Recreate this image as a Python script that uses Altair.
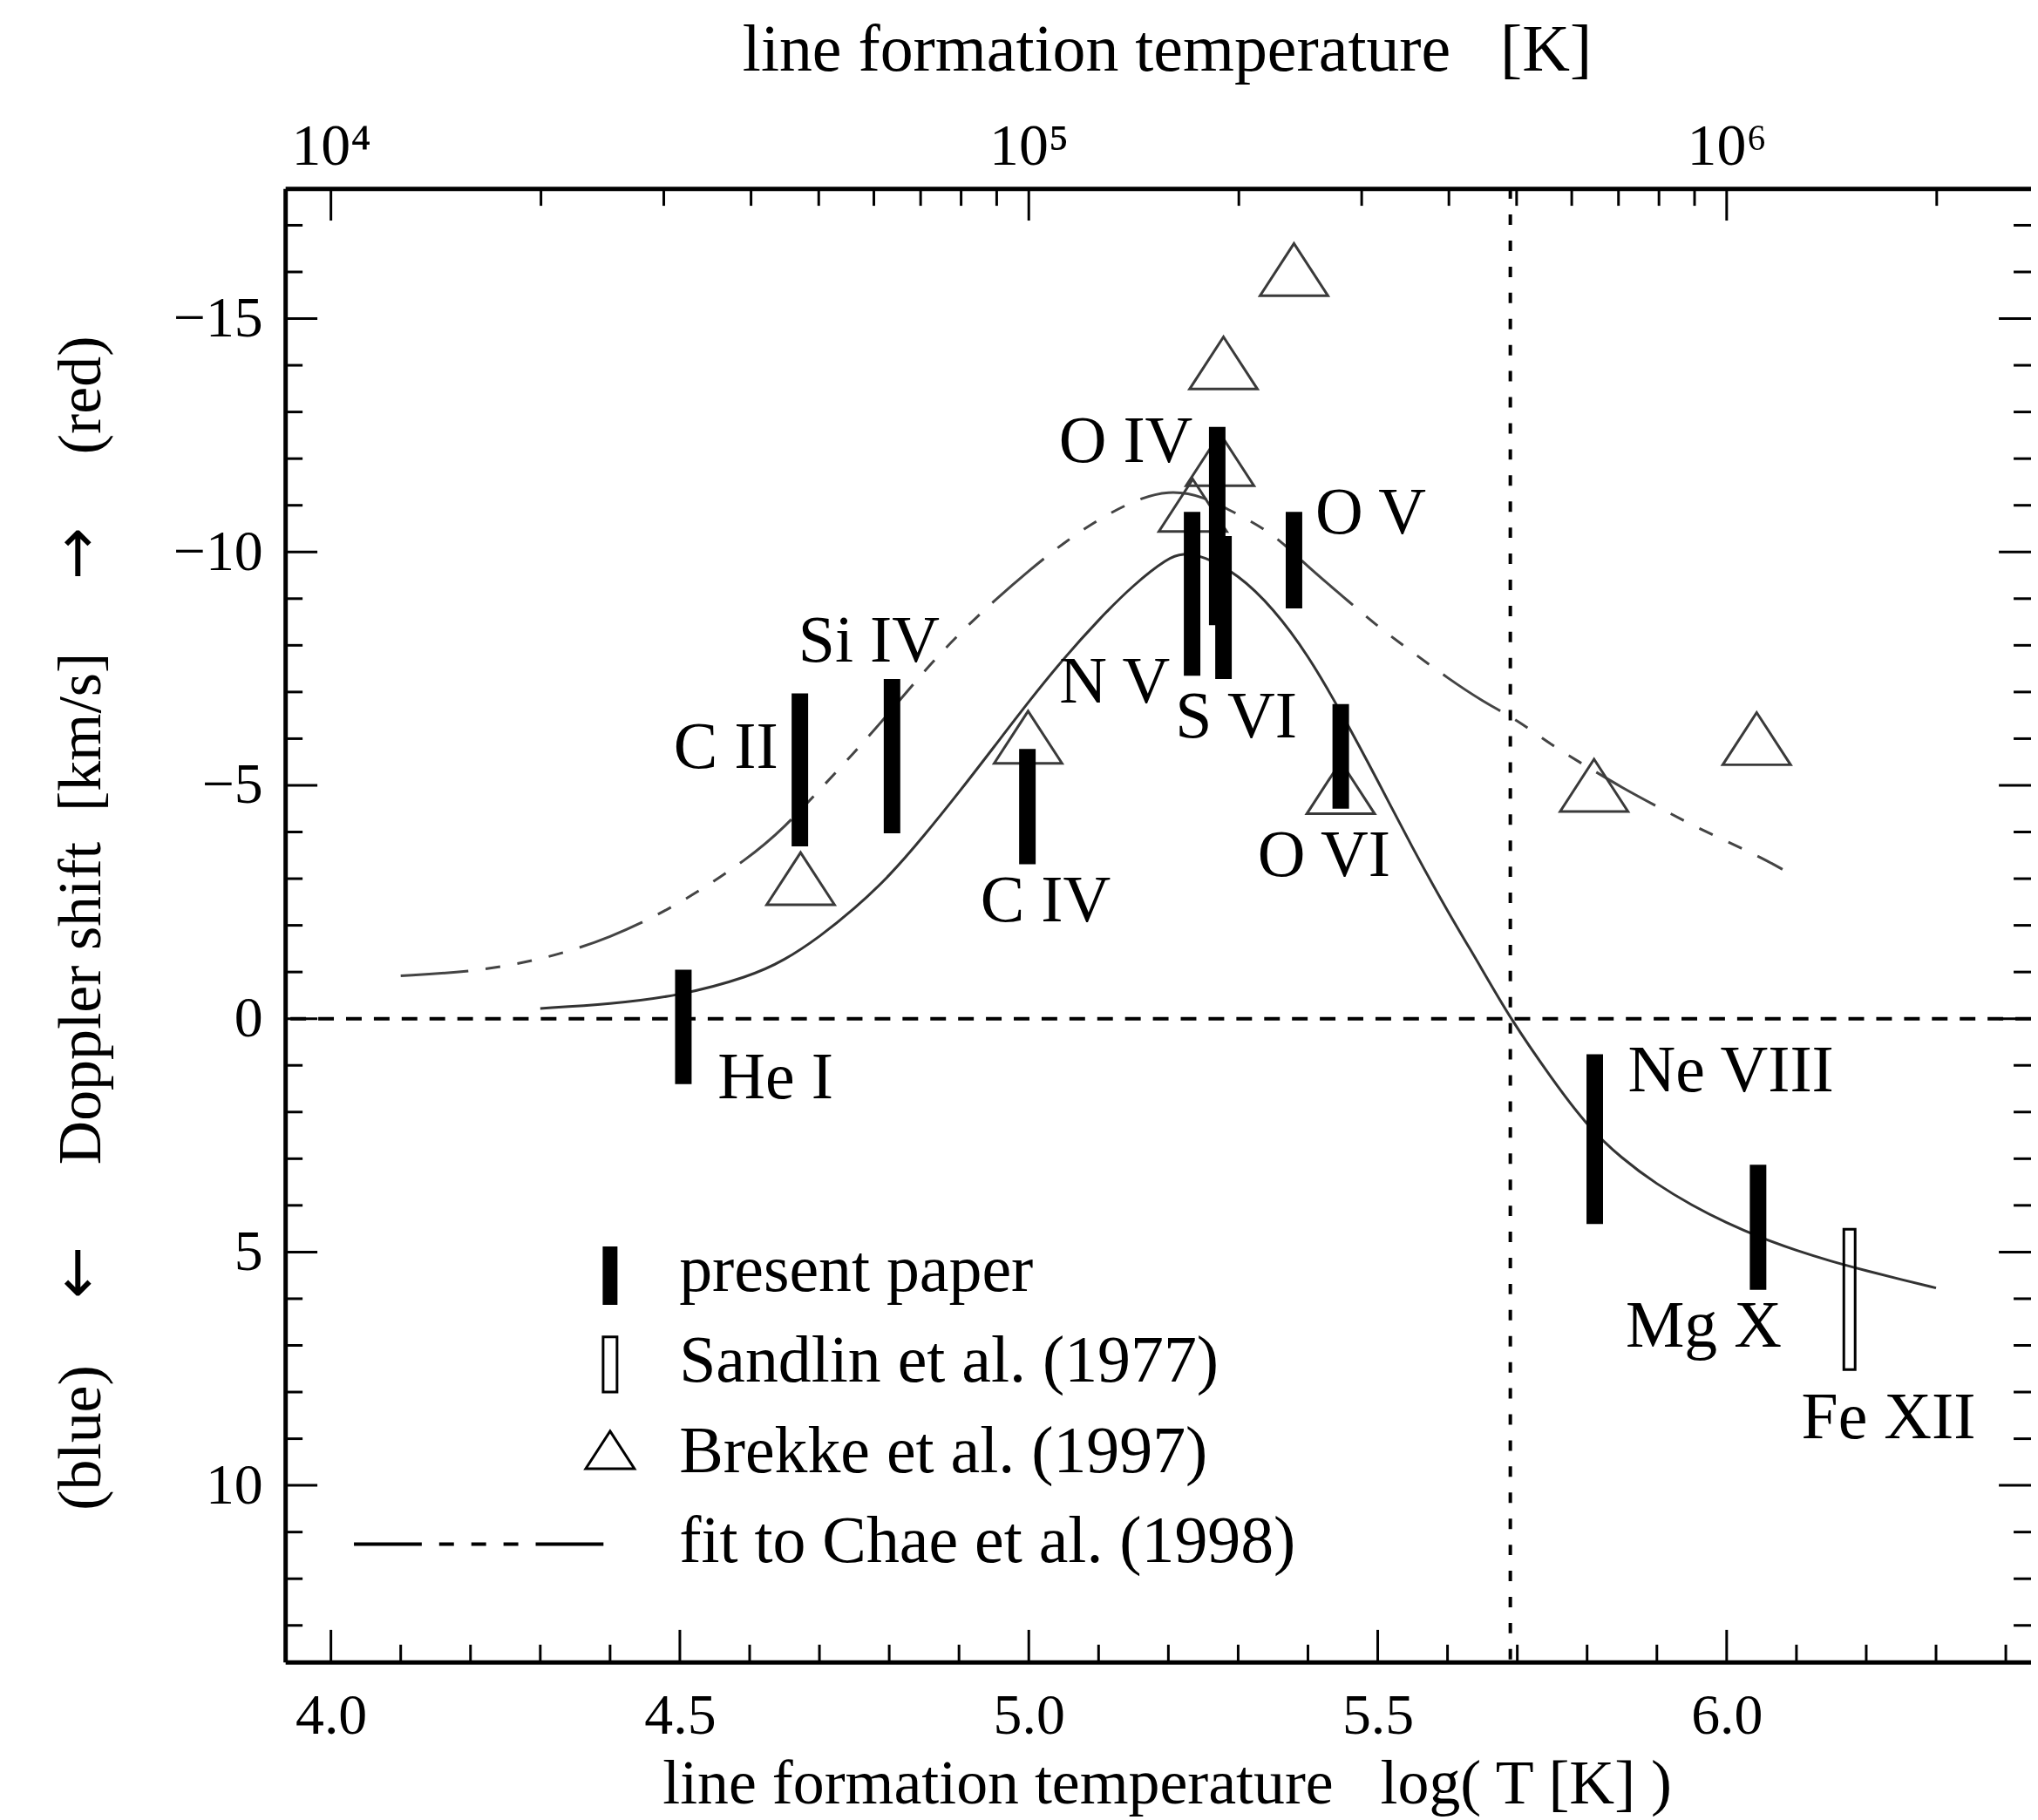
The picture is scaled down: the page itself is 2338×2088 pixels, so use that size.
import altair as alt
import pandas as pd

# ---------------- data ----------------
# present paper (filled bars): line, log T, top / bottom of the bar [km/s]
bar_names = ["He I", "C II", "Si IV", "C IV", "N V", "O IV", "S VI", "O V", "O VI", "Ne VIII", "Mg X"]
bar_x     = [4.505, 4.672, 4.804, 4.998, 5.234, 5.270, 5.279, 5.380, 5.447, 5.811, 6.045]
bar_top   = [-1.05, -6.97, -7.28, -5.78, -10.86, -12.68, -10.34, -10.86, -6.74, 0.76, 3.13]
bar_bot   = [1.40, -3.69, -3.97, -3.31, -7.35, -8.43, -7.28, -8.79, -4.50, 4.40, 5.81]

# Sandlin et al. (1977) (open bar)
sandlin_x   = [6.176]
sandlin_top = [4.51]
sandlin_bot = [7.52]

# Brekke et al. (1997) (triangles)
brekke_x = [4.673, 4.999, 5.235, 5.274, 5.279, 5.380, 5.447, 5.810, 6.043]
brekke_y = [-3.0, -6.03, -11.0, -11.98, -14.05, -16.05, -4.95, -5.0, -6.0]

# solid fit curve
solid_x = [4.30, 4.40, 4.50, 4.60, 4.65, 4.70, 4.75, 4.80, 4.85, 4.90, 4.95, 5.00, 5.05,
           5.10, 5.15, 5.20, 5.22, 5.25, 5.30, 5.35, 5.40, 5.45, 5.50, 5.55, 5.60, 5.65,
           5.69, 5.75, 5.80, 5.85, 5.90, 5.95, 6.00, 6.05, 6.10, 6.15, 6.20, 6.25, 6.30]
solid_y = [-0.22, -0.31, -0.49, -0.90, -1.25, -1.75, -2.35, -3.05, -3.92, -4.85, -5.82, -6.80, -7.72,
           -8.55, -9.30, -9.88, -9.97, -9.92, -9.52, -8.80, -7.80, -6.50, -5.10, -3.65, -2.30, -1.05,
           0.0, 1.30, 2.30, 3.00, 3.55, 4.00, 4.38, 4.70, 4.97, 5.20, 5.40, 5.59, 5.77]

# dash-dot fit curve
dd_x = [4.10, 4.20, 4.30, 4.40, 4.50, 4.60, 4.65, 4.70, 4.75, 4.80, 4.85, 4.90, 4.95, 5.00,
        5.05, 5.10, 5.15, 5.20, 5.25, 5.30, 5.35, 5.40, 5.45, 5.50, 5.55, 5.60, 5.65, 5.70,
        5.75, 5.80, 5.85, 5.90, 5.95, 6.00, 6.05, 6.08]
dd_y = [-0.92, -1.00, -1.25, -1.72, -2.45, -3.45, -4.10, -4.90, -5.70, -6.55, -7.45, -8.25, -8.95, -9.60,
        -10.20, -10.70, -11.10, -11.33, -11.20, -10.80, -10.40, -9.68, -9.05, -8.40, -7.85, -7.30, -6.80, -6.40,
        -5.85, -5.40, -4.95, -4.55, -4.15, -3.80, -3.45, -3.20]

# ion labels (centre x, baseline y)
lab_text = ["He I", "C II", "Si IV", "C IV", "N V", "O IV", "S VI", "O V", "O VI", "Ne VIII", "Mg X", "Fe XII"]
lab_x    = [4.637, 4.566, 4.771, 5.024, 5.123, 5.139, 5.297, 5.490, 5.423, 6.006, 5.967, 6.232]
lab_y    = [1.70, -5.37, -7.66, -2.09, -6.77, -11.92, -6.02, -10.40, -3.05, 1.55, 7.02, 8.99]

# side notes of the y-axis title (text, centre along the axis in km/s)
side_text = ["(blue)", "(red)"]
side_y    = [8.98, -13.36]
arrow_text = ["\u2190", "\u2192"]
arrow_y    = [5.44, -9.97]

# reference lines
zero_y = [0.0]
split_x = [5.69]

# legend
leg_text = ["present paper", "Sandlin et al. (1977)", "Brekke et al. (1997)", "fit to Chae et al. (1998)"]
leg_text_x = 4.499
leg_text_y = [5.83, 7.77, 9.72, 11.65]
leg_sym_x = 4.40
leg_bar = (4.88, 6.13)
leg_open = (6.82, 8.00)
leg_tri_y = 9.24
leg_line_x = (4.033, 4.40)
leg_line_y = 11.26

# axes
x_major = [4.0, 4.5, 5.0, 5.5, 6.0]
x_minor = [4.1, 4.2, 4.3, 4.4, 4.6, 4.7, 4.8, 4.9, 5.1, 5.2, 5.3, 5.4, 5.6, 5.7, 5.8, 5.9,
           6.1, 6.2, 6.3, 6.4]
top_major = [4.0, 5.0, 6.0]
top_labels = ["10\u2074", "10\u2075", "10\u2076"]
top_minor = [4.301, 4.477, 4.602, 4.699, 4.778, 4.845, 4.903, 4.954,
             5.301, 5.477, 5.602, 5.699, 5.778, 5.845, 5.903, 5.954, 6.301]
y_major = [-15, -10, -5, 0, 5, 10]
y_minor = [-17, -16, -14, -13, -12, -11, -9, -8, -7, -6, -4, -3, -2, -1,
           1, 2, 3, 4, 6, 7, 8, 9, 11, 12, 13]

bottom_title = "line formation temperature\u2002 log( T [K] )"
top_title = "line formation temperature\u2002 [K]"
left_title = "Doppler shift\u2002[km/s]"

# ---------------- layout ----------------
W, H = 2008, 1695
XDOM = [3.9407, 6.4299]
YDOM = [-17.79, 13.785]
FONT = "Liberation Serif"
MAJ, MIN = 37, 20
DASHDOT = [78, 20, 17, 20, 17, 20, 17, 20]
YTITLE_X = -234

xs = alt.Scale(domain=XDOM, nice=False, zero=False)
ys = alt.Scale(domain=YDOM, nice=False, zero=False, reverse=True)


def X(f, axis=None):
    return alt.X(f, type="quantitative", scale=xs, axis=axis)


def Y(f, axis=None):
    return alt.Y(f, type="quantitative", scale=ys, axis=axis)


top_expr = " : ".join(
    [f"datum.value == {v} ? '{t}'" for v, t in zip(top_major, top_labels)]) + " : ''"

bottom_axis = alt.Axis(
    orient="bottom", values=x_major, format=".1f", ticks=False, tickSize=0, grid=False,
    domain=True, domainColor="black", domainWidth=5,
    labelFont=FONT, labelFontSize=66, labelColor="black", labelPadding=30,
    labelFlush=False, labelOverlap=False,
    title=bottom_title, titleFont=FONT, titleFontSize=72, titleFontWeight="normal",
    titleColor="black", titleX=1014, titleY=162, titleAlign="center",
    titleBaseline="alphabetic")

top_axis = alt.Axis(
    orient="top", values=top_major, labelExpr=top_expr, ticks=False, tickSize=0, grid=False,
    domain=True, domainColor="black", domainWidth=5,
    labelFont=FONT, labelFontSize=68, labelColor="black", labelPadding=28,
    labelBaseline="alphabetic", labelFlush=False, labelOverlap=False,
    title=top_title, titleFont=FONT, titleFontSize=76, titleFontWeight="normal",
    titleColor="black", titleX=1014, titleY=-136, titleAlign="center",
    titleBaseline="alphabetic")

left_axis = alt.Axis(
    orient="left", values=y_major, format="d", ticks=False, tickSize=0, grid=False,
    domain=True, domainColor="black", domainWidth=5,
    labelFont=FONT, labelFontSize=66, labelColor="black", labelPadding=26,
    labelFlush=False, labelOverlap=False,
    title=left_title, titleFont=FONT, titleFontSize=70, titleFontWeight="normal",
    titleColor="black", titleAngle=270, titleX=YTITLE_X, titleY=828, titleAlign="center",
    titleBaseline="middle")

# ---------------- layers ----------------
zero_line = alt.Chart(pd.DataFrame({"y": zero_y})).mark_rule(
    color="black", strokeWidth=4, strokeDash=[18, 14]).encode(y=Y("y"))

split_line = alt.Chart(pd.DataFrame({"x": split_x})).mark_rule(
    color="black", strokeWidth=4, strokeDash=[12, 18]).encode(x=X("x"))

solid = alt.Chart(pd.DataFrame({"x": solid_x, "y": solid_y})).mark_line(
    color="#333333", strokeWidth=3, interpolate="basis").encode(x=X("x"), y=Y("y"))

dashdot = alt.Chart(pd.DataFrame({"x": dd_x, "y": dd_y})).mark_line(
    color="#444444", strokeWidth=3, strokeDash=DASHDOT, interpolate="basis"
).encode(x=X("x"), y=Y("y"))

TRI = "M0,-0.77L1,0.77L-1,0.77Z"
tri = alt.Chart(pd.DataFrame({"x": brekke_x, "y": brekke_y})).mark_point(
    shape=TRI, size=6084, filled=False, stroke="#3a3a3a", strokeWidth=3, opacity=1
).encode(x=X("x", top_axis), y=Y("y"))

bars = alt.Chart(pd.DataFrame({"name": bar_names, "x": bar_x, "y1": bar_top, "y2": bar_bot})).mark_rule(
    color="black", strokeWidth=19, strokeCap="butt"
).encode(x=X("x", bottom_axis), y=Y("y1", left_axis), y2="y2")

sandlin = alt.Chart(pd.DataFrame({"x": sandlin_x, "y1": sandlin_top, "y2": sandlin_bot})).mark_bar(
    size=13, fill="transparent", stroke="black", strokeWidth=3
).encode(x=X("x"), y=Y("y1"), y2="y2")

labels = alt.Chart(pd.DataFrame({"t": lab_text, "x": lab_x, "y": lab_y})).mark_text(
    font=FONT, fontSize=76, align="center", baseline="alphabetic", color="black"
).encode(x=X("x"), y=Y("y"), text="t")

side_notes = alt.Chart(pd.DataFrame({"t": side_text, "y": side_y})).mark_text(
    font=FONT, fontSize=70, angle=270, align="center", baseline="middle", color="black"
).encode(y=Y("y"), x=alt.value(YTITLE_X), text="t")

arrows = alt.Chart(pd.DataFrame({"t": arrow_text, "y": arrow_y})).mark_text(
    font="DejaVu Sans", fontSize=72, angle=270, align="center", baseline="middle", color="black"
).encode(y=Y("y"), x=alt.value(YTITLE_X - 4), text="t")

# legend
leg_bar_l = alt.Chart(pd.DataFrame({"x": [leg_sym_x], "y1": [leg_bar[0]], "y2": [leg_bar[1]]})).mark_rule(
    color="black", strokeWidth=17, strokeCap="butt").encode(x=X("x"), y=Y("y1"), y2="y2")
leg_open_l = alt.Chart(pd.DataFrame({"x": [leg_sym_x], "y1": [leg_open[0]], "y2": [leg_open[1]]})).mark_bar(
    size=16, fill="transparent", stroke="black", strokeWidth=3).encode(x=X("x"), y=Y("y1"), y2="y2")
leg_tri_l = alt.Chart(pd.DataFrame({"x": [leg_sym_x], "y": [leg_tri_y]})).mark_point(
    shape=TRI, size=3136, filled=False, stroke="black", strokeWidth=3, opacity=1
).encode(x=X("x"), y=Y("y"))
leg_line_l = alt.Chart(pd.DataFrame({"x1": [leg_line_x[0]], "x2": [leg_line_x[1]], "y": [leg_line_y]})).mark_rule(
    color="black", strokeWidth=4, strokeDash=DASHDOT).encode(x=X("x1"), x2="x2", y=Y("y"))
leg_text_l = alt.Chart(pd.DataFrame({"t": leg_text, "x": [leg_text_x] * 4, "y": leg_text_y})).mark_text(
    font=FONT, fontSize=76, align="left", baseline="alphabetic", color="black"
).encode(x=X("x"), y=Y("y"), text="t")


# tick marks (inward)
def xticks(vals, y0, y1):
    return alt.Chart(pd.DataFrame({"v": vals})).mark_rule(color="black", strokeWidth=3).encode(
        x=X("v"), y=alt.value(y0), y2=alt.value(y1))


def yticks(vals, x0, x1):
    return alt.Chart(pd.DataFrame({"v": vals})).mark_rule(color="black", strokeWidth=3).encode(
        y=Y("v"), x=alt.value(x0), x2=alt.value(x1))


tick_layers = [
    xticks(x_major, H, H - MAJ), xticks(x_minor, H, H - MIN),
    xticks(top_major, 0, MAJ), xticks(top_minor, 0, MIN),
    yticks(y_major, 0, MAJ), yticks(y_minor, 0, MIN),
    yticks(y_major, W, W - MAJ), yticks(y_minor, W, W - MIN),
]

chart = alt.layer(
    zero_line, split_line, solid, dashdot, tri, bars, sandlin, labels, side_notes, arrows,
    leg_bar_l, leg_open_l, leg_tri_l, leg_line_l, leg_text_l, *tick_layers
).resolve_axis(x="independent", y="independent").properties(
    width=W, height=H,
    padding={"left": 320, "top": 206, "right": 0, "bottom": 179},
    autosize=alt.AutoSizeParams(type="none"),
    background="white",
).configure_view(stroke=None)

chart.save("out.html", embed_options={"renderer": "svg", "actions": False})
